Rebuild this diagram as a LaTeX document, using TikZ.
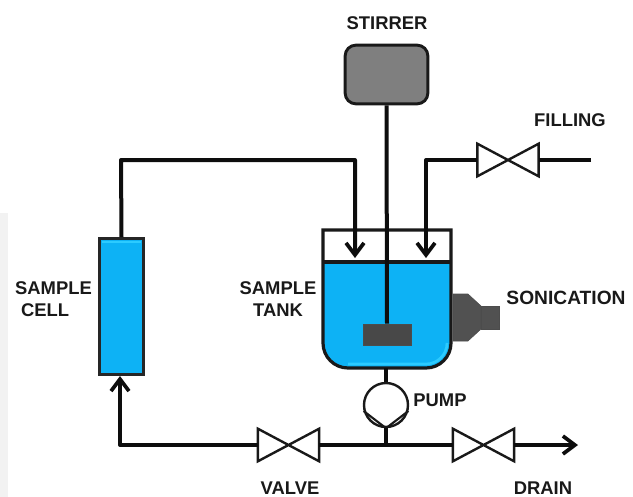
\documentclass[tikz,border=0pt]{standalone}
\usepackage{fontspec}
\setmainfont{Liberation Sans}
\usepackage{xcolor}
\usetikzlibrary{arrows.meta, positioning}
\definecolor{liquid}{HTML}{0DB2F5}
\definecolor{liquidlight}{HTML}{2CCBFF}
\definecolor{motor}{HTML}{7F7F7F}
\definecolor{paddle}{HTML}{484848}

\begin{document}
\begin{tikzpicture}[
    x=0.75pt, y=-0.75pt,
    pipe/.style={line width=3pt, draw=black!95, line join=round},
    flow/.style={pipe, -{Straight Barb[length=9pt, width=13.5pt, line width=2.8pt]}},
    label/.style={font=\bfseries\fontsize{13.8}{16.5}\selectfont, text=black!90, align=center, inner sep=0pt},
    valvebox/.style={rectangle, minimum width=45.5pt, minimum height=24pt, inner sep=0pt},
    vessel/.style={draw=black!90, line width=2.4pt}
]
\useasboundingbox (0,0) rectangle (633,497);
\fill[black!5] (0,213) rectangle (8,497);

% sample cell and tank
\node[rectangle, draw=black!85, line width=2.2pt, fill=liquid, minimum width=33pt, minimum height=102pt, inner sep=0pt] (cell) at (121.5,306.5) {};
\draw[liquidlight, line width=1.5pt] (102,242) -- (141,242);
\fill[liquid] (323,262) -- (451,262) -- (451,343) arc[start angle=0, end angle=90, radius=25] -- (348,368) arc[start angle=90, end angle=180, radius=25] -- cycle;
\draw[liquidlight, line width=2pt] (447,343) arc[start angle=0, end angle=90, radius=21] -- (348,364);
\draw[vessel] (323,230) -- (451,230) -- (451,343) arc[start angle=0, end angle=90, radius=25] -- (348,368) arc[start angle=90, end angle=180, radius=25] -- cycle;
\draw[vessel] (323,262) -- (451,262);

% stirrer
\node[rectangle, rounded corners=8pt, draw=black!90, line width=2.2pt, fill=motor, minimum width=62pt, minimum height=44pt, inner sep=0pt] (stirrer) at (386.5,74.5) {};
\node[rectangle, draw=black!70, fill=paddle, minimum width=36pt, minimum height=16pt, inner sep=0pt] (paddle) at (387,334.5) {};
\draw[pipe] (stirrer.south) -- (paddle.north);

% sonication horn
\fill[paddle!95!white, draw=black!70] (453,294) -- (468,294) -- (481,306) -- (481,329) -- (468,341) -- (453,341) -- cycle;
\node[rectangle, draw=black!70, fill=paddle!95!white, minimum width=13.5pt, minimum height=17pt, inner sep=0pt] (horn) at (490,317.5) {};

% pump
\coordinate (tankout) at (386,368);
\coordinate (tee) at (386,445);
\node[circle, draw=black!90, line width=1.8pt, fill=white, minimum size=33pt, inner sep=0pt] (pump) at (386,405) {};
\draw[line width=1.6pt, black!90] (pump.195) -- (pump.south) -- (pump.-15);
\draw[pipe] (tankout) -- (pump.north);
\draw[pipe] (pump.south) -- (tee);

% valves
\foreach \name/\cx/\cy in {fillvalve/508/160, mainvalve/288.5/445, drainvalve/483.5/445} {
    \node[valvebox] (\name) at (\cx,\cy) {};
    \draw[line width=1.8pt, black!90, fill=white, line join=miter] (\name.north west) -- (\name.south east) -- (\name.north east) -- (\name.south west) -- cycle;
}

% pipes
\coordinate (fillin) at (591,160);
\coordinate (drainout) at (578,445);
\coordinate (inleft) at (355,258);
\coordinate (inright) at (426,258);
\coordinate (cellin) at (120,376);
\draw[flow] (cell.north) -- (121,160) -- (355,160) -- (inleft);
\draw[pipe] (fillin) -- (fillvalve.east);
\draw[flow] (fillvalve.west) -- (426,160) -- (inright);
\draw[pipe] (tee) -- (mainvalve.east);
\draw[flow] (mainvalve.west) -- (120,445) -- (cellin);
\draw[pipe] (tee) -- (drainvalve.west);
\draw[flow] (drainvalve.east) -- (drainout);

% labels
\node[label] (stirrerlabel) at (387,23) {STIRRER};
\node[label] (fillinglabel) at (570,120) {FILLING};
\node[label, align=left] (celllabel) at (53.5,299) {SAMPLE\\\hspace*{4.5pt}CELL};
\node[label] (tanklabel) at (278,299) {SAMPLE\\TANK};
\node[label, font=\bfseries\fontsize{14.4}{16.5}\selectfont] (soniclabel) at (566,298) {SONICATION};
\node[label] (pumplabel) at (440,400) {PUMP};
\node[label] (valvelabel) at (290,488) {VALVE};
\node[label] (drainlabel) at (543,488) {DRAIN};
\end{tikzpicture}
\end{document}
